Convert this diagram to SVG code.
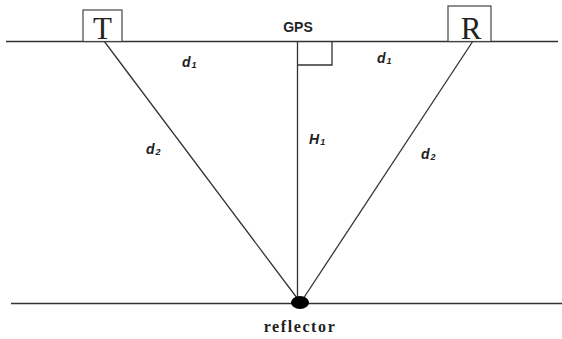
<svg xmlns="http://www.w3.org/2000/svg" width="562" height="339" viewBox="0 0 562 339">
<style>
.ln{stroke:#333;stroke-width:1.3;fill:none}
.bx{stroke:#444;stroke-width:1.2;fill:#fff}
.big{font-family:"Liberation Serif",serif;font-size:31px;fill:#222;text-anchor:middle}
.lab{font-family:"Liberation Sans",Arial,sans-serif;font-weight:bold;font-style:italic;font-size:14px;fill:#222}
.sub{font-size:9px}
.gps{font-family:"Liberation Sans",Arial,sans-serif;font-weight:bold;font-size:14px;fill:#222;text-anchor:middle}
.ref{font-family:"Liberation Serif",serif;font-weight:bold;font-size:16px;fill:#222;text-anchor:middle;letter-spacing:1.6px}
</style>
<rect width="562" height="339" fill="#fff"/>
<g id="connectors">
<line class="ln" x1="6" y1="41.5" x2="558" y2="41.5"/>
<line class="ln" x1="11" y1="303.5" x2="562" y2="303.5"/>
<line class="ln" x1="104" y1="41" x2="300" y2="302"/>
<line class="ln" x1="473" y1="41" x2="301" y2="302"/>
<line class="ln" x1="297.5" y1="41" x2="297.5" y2="302"/>
<polyline class="ln" points="298,65 332,65 332,41"/>
</g>
<g id="T">
<rect class="bx" x="83" y="10" width="39" height="31.5"/>
<text class="big" x="102.5" y="39">T</text>
</g>
<g id="R">
<rect class="bx" x="448" y="6" width="43" height="35.5"/>
<text class="big" x="471" y="38.5">R</text>
</g>
<g id="GPS">
<text class="gps" x="298" y="32">GPS</text>
</g>
<g id="reflector">
<ellipse cx="300" cy="302.5" rx="9" ry="6.5" fill="#000"/>
<text class="ref" x="300" y="332">reflector</text>
</g>
<g id="labels">
<text class="lab" x="182" y="67">d<tspan class="sub" dx="1" dy="1">1</tspan></text>
<text class="lab" x="377" y="63">d<tspan class="sub" dx="1" dy="1">1</tspan></text>
<text class="lab" x="146" y="154">d<tspan class="sub" dx="1" dy="1">2</tspan></text>
<text class="lab" x="421" y="159">d<tspan class="sub" dx="1" dy="1">2</tspan></text>
<text class="lab" x="309" y="144">H<tspan class="sub" dx="1" dy="1">1</tspan></text>
</g>
</svg>
